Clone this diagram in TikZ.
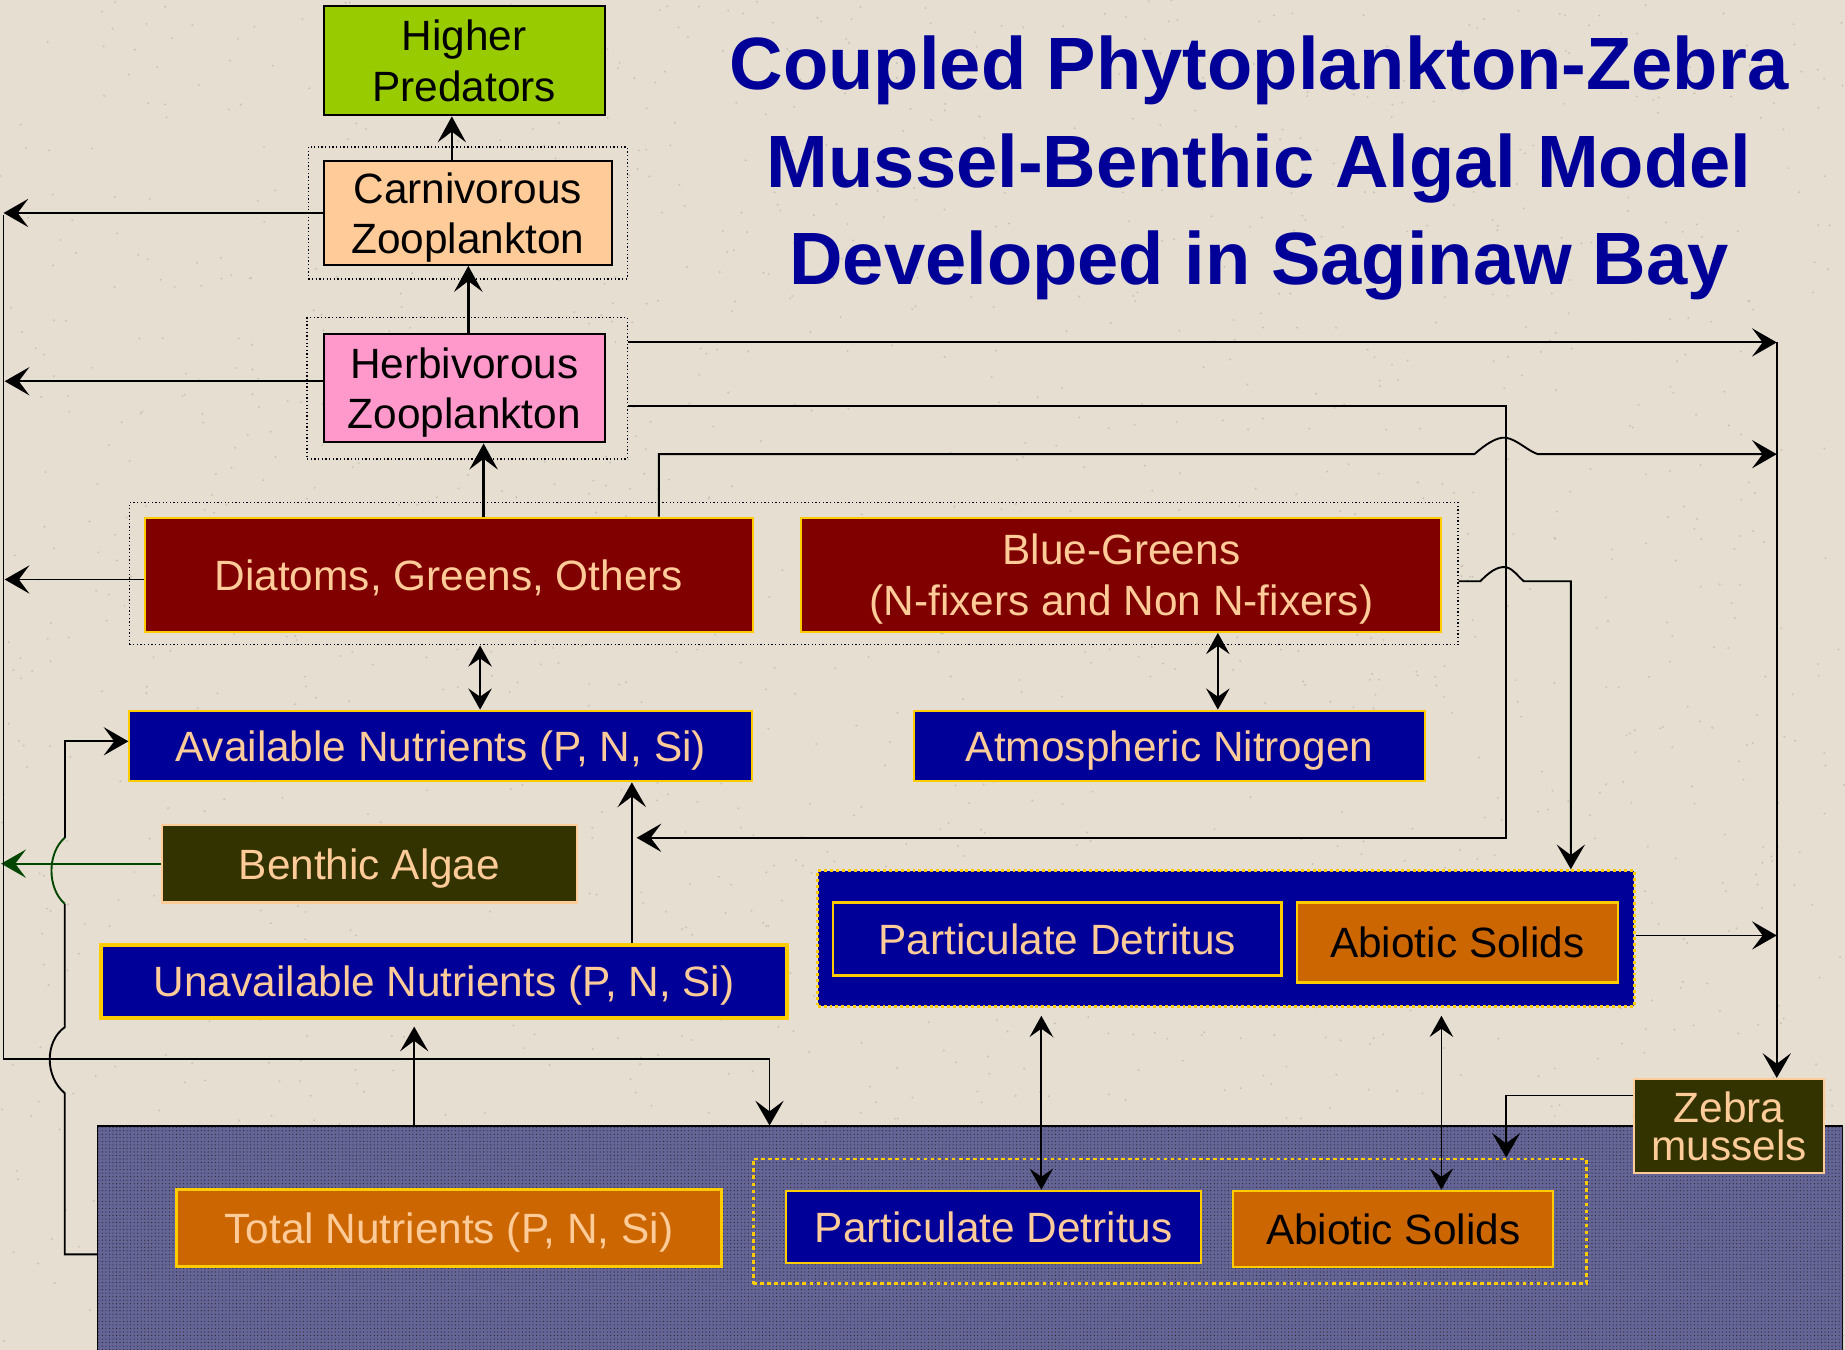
\documentclass[tikz,border=0pt]{standalone}
\usepackage{fontspec}
\setmainfont{Liberation Sans}
\usetikzlibrary{arrows.meta,patterns,calc}
\definecolor{bgc}{RGB}{229,222,209}
\definecolor{navy}{RGB}{0,0,153}
\definecolor{gold}{RGB}{255,204,0}
\definecolor{peach}{RGB}{255,204,153}
\definecolor{maroonc}{RGB}{128,0,0}
\definecolor{orng}{RGB}{204,102,0}
\definecolor{olivec}{RGB}{51,51,0}
\definecolor{limec}{RGB}{153,204,0}
\definecolor{pinkz}{RGB}{255,153,204}
\definecolor{sedc}{RGB}{100,100,150}
\definecolor{titlec}{RGB}{0,0,153}
\definecolor{dkgreen}{RGB}{0,70,0}
\begin{document}
\begin{tikzpicture}[x=1pt,y=-1pt,
  box/.style={draw, rectangle, inner sep=0pt, align=center, text depth=0pt,
    font=\fontsize{36}{43}\selectfont, line width=1.8pt},
  goldbox/.style={box, draw=gold, text=peach},
  dotbox/.style={draw, dotted, line width=1.1pt, rectangle, inner sep=0pt},
  ln/.style={line width=1.6pt},
  arr/.style={line width=1.6pt, -{Stealth[length=21pt,width=24pt,inset=9pt]}},
  thk/.style={line width=2.8pt, -{Stealth[length=22pt,width=24pt,inset=9pt]}},
  dbl/.style={line width=1.5pt, {Stealth[length=18pt,width=20pt,inset=7pt]}-{Stealth[length=18pt,width=20pt,inset=7pt]}}]
\useasboundingbox (0,0) rectangle (1568,1147);
\fill[bgc] (0,0) rectangle (1568,1147);
\pgfmathsetseed{7}
\foreach \i in {1,...,1800}{
  \fill[bgc!75!black, opacity=0.5] (rnd*1568, rnd*1147) circle (0.9pt);
}

% title
\node[font=\bfseries\fontsize{63}{83}\selectfont, text=titlec, align=center] (title) at (1070,143)
  {Coupled Phytoplankton-Zebra\\Mussel-Benthic Algal Model\\Developed in Saginaw Bay};

% sediment
\node[draw=black, line width=1pt, fill=sedc, rectangle, inner sep=0pt, minimum width=1483pt, minimum height=200pt] (sed) at (824.5,1057) {};
\fill[pattern=dots, pattern color=black!85] (sed.south west) rectangle (sed.north east);
\node[draw=gold, line width=2.5pt, dash pattern=on 3pt off 3pt, rectangle, inner sep=0pt, minimum width=708pt, minimum height=106pt] (sedg) at (994,1038) {};

% dotted containers
\node[dotbox, minimum width=271pt, minimum height=112pt] (czo) at (397.5,181) {};
\node[dotbox, minimum width=272pt, minimum height=120pt] (hzo) at (397,330) {};
\node[dotbox, minimum width=1129pt, minimum height=121pt] (phyo) at (674.5,487.5) {};

% boxes
\node[box, fill=limec, minimum width=239pt, minimum height=93pt] (hp) at (394.5,51.5) {Higher\\Predators};
\node[box, fill=peach, minimum width=245pt, minimum height=88pt] (cz) at (397.5,181) {Carnivorous\\Zooplankton};
\node[box, fill=pinkz, minimum width=239pt, minimum height=92pt] (hz) at (394.5,330) {Herbivorous\\Zooplankton};
\node[goldbox, fill=maroonc, minimum width=517pt, minimum height=97pt] (dg) at (381.5,488.5) {Diatoms, Greens, Others};
\node[goldbox, fill=maroonc, minimum width=544pt, minimum height=97pt] (bg) at (953,488.5) {Blue-Greens\\(N-fixers and Non N-fixers)};
\node[goldbox, fill=navy, minimum width=529pt, minimum height=60pt] (an) at (374.5,634) {Available Nutrients (P, N, Si)};
\node[goldbox, fill=navy, minimum width=434pt, minimum height=60pt] (atn) at (994,634) {Atmospheric Nitrogen};
\node[box, draw=peach, fill=olivec, text=peach, minimum width=352pt, minimum height=66pt] (ba) at (314,734) {Benthic Algae};
\node[goldbox, line width=3pt, fill=navy, minimum width=583pt, minimum height=62pt] (un) at (377.5,834) {Unavailable Nutrients (P, N, Si)};

\node[draw=gold, line width=2.5pt, dash pattern=on 2.5pt off 2.5pt, fill=navy, rectangle, inner sep=0pt, minimum width=694pt, minimum height=115pt] (det) at (1042,797.5) {};
\node[goldbox, line width=2.2pt, fill=navy, minimum width=381pt, minimum height=62pt] (pd1) at (898.5,798) {Particulate Detritus};
\node[goldbox, fill=orng, text=black, minimum width=273pt, minimum height=68pt] (as1) at (1238.5,801) {Abiotic Solids};

\node[goldbox, line width=2.5pt, fill=orng, minimum width=463pt, minimum height=65pt] (tn) at (381.5,1043.5) {Total Nutrients (P, N, Si)};
\node[goldbox, fill=navy, minimum width=353pt, minimum height=61pt] (pd2) at (844.5,1042.5) {Particulate Detritus};
\node[goldbox, fill=orng, text=black, minimum width=272pt, minimum height=65pt] (as2) at (1184,1044.5) {Abiotic Solids};
\node[box, draw=peach, fill=olivec, text=peach, font=\fontsize{36}{33}\selectfont, minimum width=161pt, minimum height=80pt] (zm) at (1469.5,957) {Zebra\\mussels};

% food chain arrows
\draw[thk, line width=2.2pt] (384,0 |- cz.north) -- (384,0 |- hp.south);
\draw[thk] (398,0 |- hz.north) -- (398,0 |- cz.south);
\draw[thk] (411,0 |- dg.north) -- (411,0 |- hz.south);

% left side
\draw[arr] (cz.west) -- (3,0 |- cz.west);
\draw[arr] ([yshift=6pt]hz.west) -- ([yshift=6pt]4,0 |- hz.west);
\draw[arr] ([yshift=-4pt]dg.west) -- ([yshift=-4pt]4,0 |- dg.west);
\draw[arr, dkgreen] (ba.west) -- (1,0 |- ba.west);
\draw[arr] (3,183) -- (3,900) -| (654,0 |- sed.north);

% return from sediment to available nutrients with jumps
\draw[ln] (sed.west |- 0,1066) -- (55,1066) -- (55,929)
   .. controls (38,915) and (38,885) .. (55,873) -- (55,768);
\draw[ln, dkgreen] (55,768) .. controls (40,755) and (40,725) .. (55,712);
\draw[arr] (55,712) -- (55,630) -- (an.west |- 0,630);

% nutrients
\draw[arr] (537,0 |- un.north) -- (537,0 |- an.south);
\draw[arr, shorten >=6pt] (352,0 |- sed.north) -- (352,0 |- un.south);
\draw[dbl] (408,0 |- phyo.south) -- (408,0 |- an.north);
\draw[dbl] (1035,0 |- bg.south) -- (1035,0 |- atn.north);
\draw[dbl, shorten <=7pt] (885,0 |- det.south) -- (885,0 |- pd2.north);
\draw[dbl, shorten <=7pt] (1225,0 |- det.south) -- (1225,0 |- as2.north);

% right side
\draw[arr] (hzo.east |- 0,291) -- (1510,291);
\draw[arr] (1510,291) -- (1510,0 |- zm.north);
\draw[arr] (hzo.east |- 0,345) -- (1280,345) -- (1280,712) -- (541,712);
\draw[arr] (560,0 |- dg.north) -- (560,386) -- (1253,386)
   .. controls (1262,378) and (1272,371) .. (1280,372)
   .. controls (1290,374) and (1298,383) .. (1307,386) -- (1510,386);
\draw[arr] (phyo.east |- 0,494) -- (1258,494)
   .. controls (1265,487) and (1272,481) .. (1280,482)
   .. controls (1287,484) and (1290,490) .. (1295,494) -- (1335,494) -- (1335,0 |- det.north);
\draw[arr] (det.east |- 0,795) -- (1510,795);
\draw[arr, line width=1.2pt] (zm.west |- 0,931) -- (1280,931) -- (1280,0 |- sedg.north);
\end{tikzpicture}
\end{document}
